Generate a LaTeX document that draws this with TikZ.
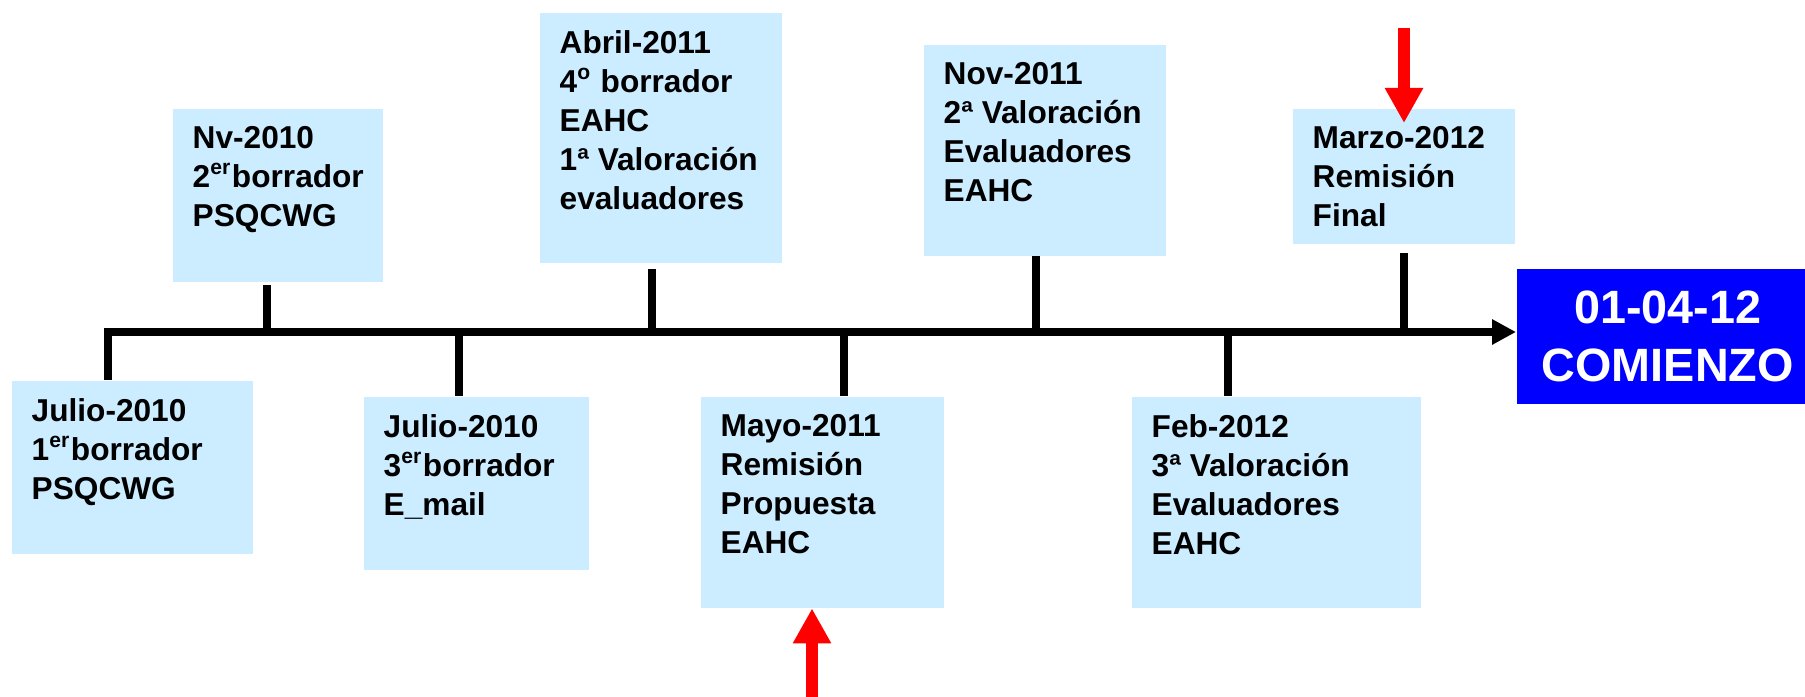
\documentclass[tikz,border=0pt]{standalone}
\usepackage{fontspec}
\setmainfont{Liberation Sans}
\usetikzlibrary{arrows.meta,positioning}
\definecolor{celeste}{RGB}{204,236,255}
\definecolor{azulfuerte}{RGB}{0,0,255}

\begin{document}
\begin{tikzpicture}[
            caja/.style={
            rectangle,
            fill=celeste,
            anchor=north west,
            inner sep=0pt},
        texto/.style={
            align=left,
            inner sep=0pt,
            font=\fontsize{9}{11.1}\selectfont\bfseries},
        linea/.style={line width=2.2pt},
        flecharoja/.style={draw=red,line width=0.12cm,-{Triangle[length=0.35cm,width=0.36cm]}},
        node distance=0.18cm and 0.20cm
        ]
        \useasboundingbox (0,0) rectangle (18.05,-6.96);

        \foreach \n/\x/\y/\w/\h/\txt in {% name/left/top/width/height/text
            j1/0.11/-3.80/2.41/1.73/{Julio-2010\\1\textsuperscript{er}borrador\\PSQCWG},
            nv/1.72/-1.08/2.10/1.73/{Nv-2010\\2\textsuperscript{er}borrador\\PSQCWG},
            j3/3.63/-3.96/2.25/1.73/{Julio-2010\\3\textsuperscript{er}borrador\\E\_mail},
            ab/5.39/-0.12/2.42/2.50/{Abril-2011\\4\textsuperscript{o} borrador\\EAHC\\1ª Valoración\\evaluadores},
            my/7.00/-3.96/2.43/2.11/{Mayo-2011\\Remisión\\Propuesta\\EAHC},
            nov/9.23/-0.44/2.42/2.11/{Nov-2011\\2ª Valoración\\Evaluadores\\EAHC},
            fb/11.31/-3.96/2.89/2.11/{Feb-2012\\3ª Valoración\\Evaluadores\\EAHC},
            mz/12.92/-1.08/2.22/1.35/{Marzo-2012\\Remisión\\Final}}
        {
            \node[caja,minimum width=\w cm,minimum height=\h cm] (\n) at (\x,\y) {};
            \node[texto,below right=of \n.north west] (\n-txt) {\txt};
        }

        \node[caja,fill=azulfuerte,minimum width=3.02cm,minimum height=1.35cm,
            text=white,align=center,font=\fontsize{13.3}{16.4}\selectfont\bfseries]
            (inicio) at (15.16,-2.68) {01-04-12\\COMIENZO};

        \foreach \i/\x in {1/1.08,2/2.67,3/4.59,4/6.52,5/8.44,6/10.36,7/12.28,8/14.04}
            \coordinate (p\i) at (\x,-3.32);

        \draw[linea,line join=miter,-{Triangle[length=0.24cm,width=0.24cm]}]
            (p1 |- j1.north) -- (p1) -- (inicio.west |- p1);

        \foreach \i/\caja/\hueco in {2/nv/0.03,4/ab/0.06,6/nov/0,8/mz/0.09}
            \draw[linea,shorten >=\hueco cm] (p\i) -- (p\i |- \caja.south);
        \foreach \i/\caja in {3/j3,5/my,7/fb}
            \draw[linea] (p\i) -- (p\i |- \caja.north);

        % flechas rojas
        \coordinate (r1) at (14.04,-0.28);
        \coordinate (r2) at (8.12,-7.00);
        \draw[flecharoja] (r1) -- ([yshift=-0.15cm]r1 |- mz.north);
        \draw[flecharoja] (r2) -- (r2 |- my.south);
\end{tikzpicture}
\end{document}
